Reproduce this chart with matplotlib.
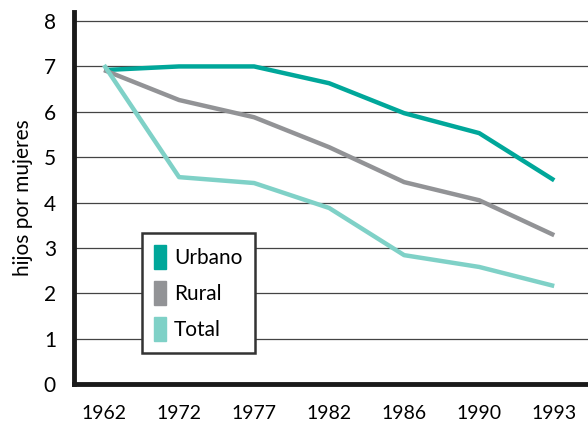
import numpy as np
import matplotlib
matplotlib.use("Agg")
import matplotlib.pyplot as plt
from matplotlib.patches import Patch

plt.rcParams['font.family'] = ['Lato', 'DejaVu Sans']

years = ["1962", "1972", "1977", "1982", "1986", "1990", "1993"]
urbano = [6.92, 7.0, 7.0, 6.63, 5.97, 5.53, 4.49]
rural = [6.92, 6.26, 5.88, 5.22, 4.45, 4.05, 3.28]
total = [7.03, 4.56, 4.43, 3.88, 2.84, 2.58, 2.16]

c_urb = "#00a79a"
c_rur = "#929396"
c_tot = "#7fd1c7"

fig = plt.figure(figsize=(5.88, 4.25), dpi=100)
ax = fig.add_axes([74/588, 41/425, 514/588, 372/425])

x = np.arange(len(years))
ax.plot(x, urbano, color=c_urb, lw=3.2, solid_capstyle='butt', zorder=3)
ax.plot(x, rural, color=c_rur, lw=3.2, solid_capstyle='butt', zorder=3)
ax.plot(x, total, color=c_tot, lw=3.2, solid_capstyle='butt', zorder=3)

ax.set_xlim(-0.4, 6.45)
ax.set_ylim(0, 8.2)
ax.set_yticks(range(9))
ax.set_xticks(x)
ax.set_xticklabels(years)
ax.tick_params(length=0, labelsize=15)
ax.tick_params(axis='x', pad=15, labelsize=14)
ax.tick_params(axis='y', pad=13)

for v in range(1, 9):
    ax.axhline(v, color="#444444", lw=0.9, zorder=1)

for s in ['top', 'right']:
    ax.spines[s].set_visible(False)
ax.spines['left'].set_linewidth(3.5)
ax.spines['bottom'].set_linewidth(3.5)
ax.spines['left'].set_color("#1a1a1a")
ax.spines['bottom'].set_color("#1a1a1a")

ax.set_ylabel("hijos por mujeres", fontsize=15, labelpad=8)

handles = [Patch(color=c_urb), Patch(color=c_rur), Patch(color=c_tot)]
leg = ax.legend(handles, ["Urbano", "Rural", "Total"], loc='lower left',
                bbox_to_anchor=(0.132, 0.083), borderaxespad=0, fontsize=15,
                frameon=True, fancybox=False, handlelength=0.55,
                handleheight=1.35, handletextpad=0.4, labelspacing=0.6,
                borderpad=0.6)
leg.get_frame().set_edgecolor("#333333")
leg.get_frame().set_linewidth(1.8)
leg.get_frame().set_alpha(1)
leg.set_zorder(5)

fig.savefig("out.png", dpi=100)
